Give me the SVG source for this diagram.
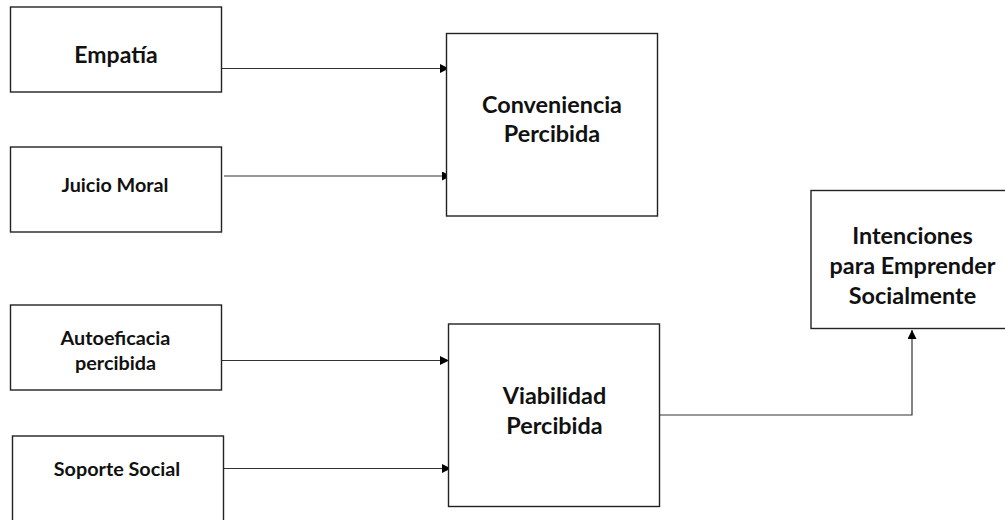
<svg xmlns="http://www.w3.org/2000/svg" width="1005" height="520" viewBox="0 0 1005 520">
<defs>
<marker id="ah" viewBox="0 0 10 10" refX="10" refY="5" markerWidth="9" markerHeight="9" markerUnits="userSpaceOnUse" orient="auto">
<path d="M0,0 L10,5 L0,10 Z" fill="#000"/>
</marker>
<style>
.box{fill:#fff;stroke:#222;stroke-width:1.4}
.t{font-family:Lato,"Liberation Sans",sans-serif;font-weight:bold;fill:#111;text-anchor:middle}
.big{font-size:23.4px}
.mid{font-size:23px}
.sm{font-size:19.8px}
.c{fill:none;stroke:#333;stroke-width:1.2}
</style>
</defs>
<rect width="1005" height="520" fill="#fff"/>
<g id="connectors">
<line class="c" x1="222" y1="68.5" x2="449" y2="68.5" marker-end="url(#ah)"/>
<line class="c" x1="224" y1="176" x2="451" y2="176" marker-end="url(#ah)"/>
<line class="c" x1="222" y1="360.5" x2="449" y2="360.5" marker-end="url(#ah)"/>
<line class="c" x1="224" y1="468.5" x2="451" y2="468.5" marker-end="url(#ah)"/>
<polyline class="c" points="660,415 912,415 912,330" marker-end="url(#ah)"/>
</g>
<g id="empatia">
<rect class="box" x="10.5" y="7" width="211" height="85"/>
<text class="t mid" x="116" y="63">Empatía</text>
</g>
<g id="juicio">
<rect class="box" x="10.5" y="147" width="211" height="85"/>
<text class="t sm" x="115" y="191.5">Juicio Moral</text>
</g>
<g id="autoeficacia">
<rect class="box" x="10.5" y="305" width="211" height="85"/>
<text class="t sm" x="115.5" y="345">Autoeficacia</text>
<text class="t sm" x="115.5" y="370">percibida</text>
</g>
<g id="soporte">
<rect class="box" x="12.5" y="436" width="211" height="90"/>
<text class="t sm" x="117" y="476">Soporte Social</text>
</g>
<g id="conveniencia">
<rect class="box" x="446.5" y="33.5" width="211" height="182.5"/>
<text class="t big" x="552" y="113">Conveniencia</text>
<text class="t big" x="552" y="142">Percibida</text>
</g>
<g id="viabilidad">
<rect class="box" x="448.5" y="324" width="211" height="182.5"/>
<text class="t big" x="554.5" y="404">Viabilidad</text>
<text class="t big" x="554.5" y="434">Percibida</text>
</g>
<g id="intenciones">
<rect class="box" x="811" y="190.5" width="210" height="138"/>
<text class="t big" x="912.5" y="243.5">Intenciones</text>
<text class="t big" x="912.5" y="274">para Emprender</text>
<text class="t big" x="912.5" y="304">Socialmente</text>
</g>
</svg>
